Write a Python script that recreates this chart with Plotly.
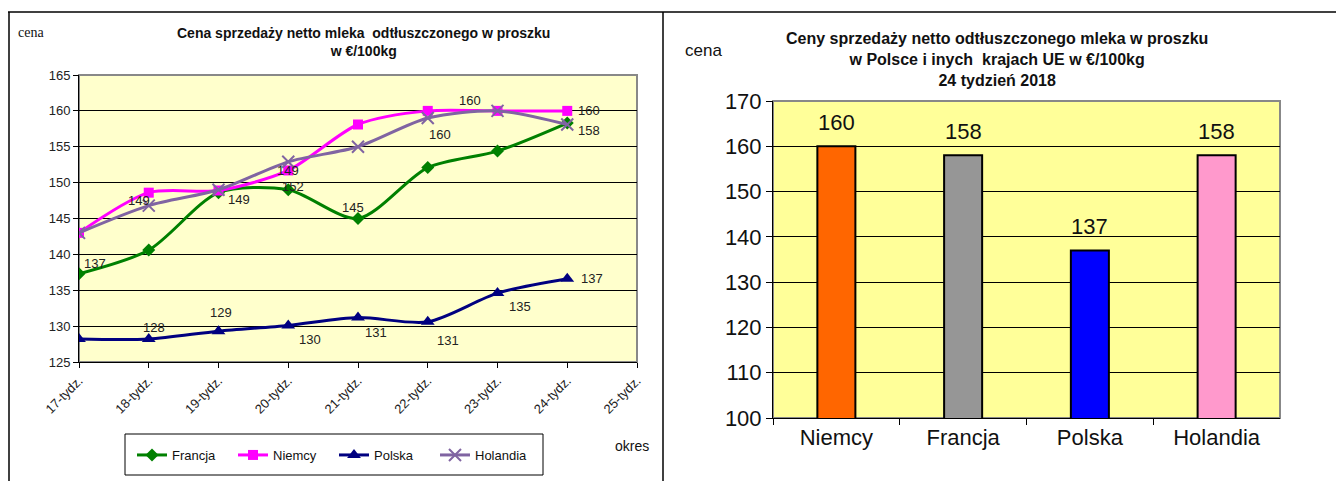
import plotly.graph_objects as go

W, H = 1344, 481
OFF = 8  # the page body adds an 8px margin

# ---------------- data ----------------
weeks = ["17-tydz.", "18-tydz.", "19-tydz.", "20-tydz.", "21-tydz.",
         "22-tydz.", "23-tydz.", "24-tydz.", "25-tydz."]
francja = [137.3, 140.6, 148.6, 149.0, 145.0, 152.1, 154.4, 158.3]
niemcy = [143.0, 148.6, 148.9, 151.7, 158.1, 160.0, 160.0, 160.0]
polska = [128.2, 128.2, 129.3, 130.1, 131.2, 130.6, 134.6, 136.6]
holandia = [143.0, 146.8, 149.0, 152.9, 155.0, 159.0, 160.0, 158.1]

bar_countries = ["Niemcy", "Francja", "Polska", "Holandia"]
bar_values = [160, 158, 137, 158]
bar_colors = ["#FF6600", "#969696", "#0000FF", "#FF99CC"]

# data labels on the line chart: (series, index, xshift, yshift)
line_labels = [
    ("Francja", 0, 16, 10),
    ("Niemcy", 1, -10, -8),
    ("Francja", 2, 20, -7),
    ("Francja", 3, 0, 19),
    ("Niemcy", 3, 5, -16),
    ("Francja", 4, -5, 11),
    ("Niemcy", 5, 12, -24),
    ("Niemcy", 6, -28, 10),
    ("Niemcy", 7, 22, 0),
    ("Holandia", 7, 22, -6),
    ("Polska", 1, 5, 12),
    ("Polska", 2, 2, 19),
    ("Polska", 3, 22, -14),
    ("Polska", 4, 18, -15),
    ("Polska", 5, 20, -19),
    ("Polska", 6, 22, -13),
    ("Polska", 7, 25, 0),
]

series = {
    "Francja": (francja, "#008000", "diamond", 10),
    "Niemcy": (niemcy, "#FF00FF", "square", 10),
    "Polska": (polska, "#000080", "triangle-up", 12),
    "Holandia": (holandia, "#8064A2", "x-thin", 12),
}


def fx(px):
    return (px - OFF) / W


def fy(py):
    return 1 - (py - OFF) / H


ARIAL = "Liberation Sans, Arial, sans-serif"

fig = go.Figure()

for name, (vals, col, sym, size) in series.items():
    mk = dict(symbol=sym, size=size, color=col)
    if sym == "x-thin":
        mk["line"] = dict(color=col, width=2)
    fig.add_trace(go.Scatter(
        x=weeks[:len(vals)], y=vals, name=name, mode="lines+markers",
        line=dict(color=col, width=3, shape="spline", smoothing=0.8),
        marker=mk, xaxis="x", yaxis="y", showlegend=True,
    ))

# keep the empty 25-tydz. category on the axis
fig.add_trace(go.Scatter(x=[weeks[-1]], y=[None], xaxis="x", yaxis="y",
                         showlegend=False, hoverinfo="skip"))

fig.add_trace(go.Bar(
    x=bar_countries, y=bar_values, marker=dict(color=bar_colors, line=dict(color="black", width=2)),
    width=0.3, xaxis="x2", yaxis="y2", showlegend=False,
))

annotations = []
for name, i, xs, ys in line_labels:
    v = series[name][0][i]
    annotations.append(dict(
        x=weeks[i], y=v, xref="x", yref="y", text=str(int(v + 0.5)),
        showarrow=False, xshift=xs, yshift=ys, xanchor="center", yanchor="middle",
        font=dict(size=13, color="#222", family=ARIAL),
    ))

for c, v in zip(bar_countries, bar_values):
    annotations.append(dict(
        x=c, y=v, xref="x2", yref="y2", text=str(v), showarrow=False,
        xanchor="center", yanchor="middle", yshift=24,
        font=dict(size=22, color="#111", family=ARIAL),
    ))


def txt(x, y, text, size, family=ARIAL, bold=False):
    return dict(x=fx(x), y=fy(y), xref="paper", yref="paper", showarrow=False,
                xanchor="center", yanchor="middle", align="center",
                text=f"<b>{text}</b>" if bold else text,
                font=dict(size=size, color="#111", family=family))


annotations += [
    txt(363, 42, "Cena sprzedaży netto mleka  odtłuszczonego w proszku<br>w €/100kg", 14, bold=True),
    txt(31, 33, "cena", 14, family="Liberation Serif, Times New Roman, serif"),
    txt(632, 446, "okres", 14),
    txt(997, 59, "Ceny sprzedaży netto odtłuszczonego mleka w proszku<br>w Polsce i inych  krajach UE w €/100kg<br>24 tydzień 2018", 16, bold=True),
    txt(703, 50, "cena", 17),
]

shapes = [
    dict(type="line", xref="paper", yref="paper", x0=fx(8), x1=1, y0=fy(12), y1=fy(12),
         line=dict(color="black", width=1.5)),
    dict(type="line", xref="paper", yref="paper", x0=fx(9), x1=fx(9), y0=fy(12), y1=0,
         line=dict(color="black", width=1.5)),
    dict(type="line", xref="paper", yref="paper", x0=fx(663), x1=fx(663), y0=fy(12), y1=0,
         line=dict(color="black", width=1.5)),
    # legend frame
    dict(type="rect", xref="paper", yref="paper", x0=fx(125), x1=fx(543), y0=fy(475), y1=fy(434),
         line=dict(color="black", width=1), fillcolor="white", layer="below"),
    # yellow plot backgrounds
    dict(type="rect", xref="x domain", yref="y domain", x0=0, x1=1, y0=0, y1=1,
         fillcolor="#FFFFCC", line=dict(color="#888", width=2), layer="below"),
    dict(type="rect", xref="x2 domain", yref="y2 domain", x0=0, x1=1, y0=0, y1=1,
         fillcolor="#FFFF99", line=dict(color="#888", width=2), layer="below"),
]

fig.update_layout(
    width=W, height=H, margin=dict(l=0, r=0, t=0, b=0, autoexpand=False),
    paper_bgcolor="white", plot_bgcolor="white",
    font=dict(family=ARIAL, color="#222"),
    xaxis=dict(domain=[fx(79), fx(637)], anchor="y", type="category",
               categoryorder="array", categoryarray=weeks, range=[0, 8],
               tickangle=-45, ticks="outside", ticklen=5, tickcolor="black",
               showline=True, linecolor="black", linewidth=1, showgrid=False,
               automargin=False,
               tickfont=dict(size=13, color="#222", family=ARIAL)),
    yaxis=dict(domain=[fy(362), fy(75)], anchor="x", range=[125, 165], dtick=5,
               ticks="outside", ticklen=5, tickcolor="black",
               showline=True, linecolor="black", linewidth=1, automargin=False,
               showgrid=True, gridcolor="black", gridwidth=1, zeroline=False,
               tickfont=dict(size=13, color="#222", family=ARIAL)),
    xaxis2=dict(domain=[fx(773), fx(1280)], anchor="y2", type="category",
                ticks="outside", tickson="boundaries", ticklen=6, tickcolor="black",
                showline=True, linecolor="black", linewidth=1, showgrid=False,
                automargin=False,
                tickfont=dict(size=22, color="#111", family=ARIAL)),
    yaxis2=dict(domain=[fy(418), fy(101)], anchor="x2", range=[100, 170], dtick=10,
                ticks="outside", ticklen=6, tickcolor="black",
                showline=True, linecolor="black", linewidth=1, automargin=False,
                showgrid=True, gridcolor="black", gridwidth=1, zeroline=False,
                tickfont=dict(size=22, color="#111", family=ARIAL)),
    legend=dict(orientation="h", x=fx(334), y=fy(455), xanchor="center", yanchor="middle",
                borderwidth=0, bgcolor="rgba(0,0,0,0)",
                font=dict(size=13, color="#111", family=ARIAL),
                entrywidth=56, itemwidth=30),
    annotations=annotations, shapes=shapes,
)

fig.write_html("out.html")
